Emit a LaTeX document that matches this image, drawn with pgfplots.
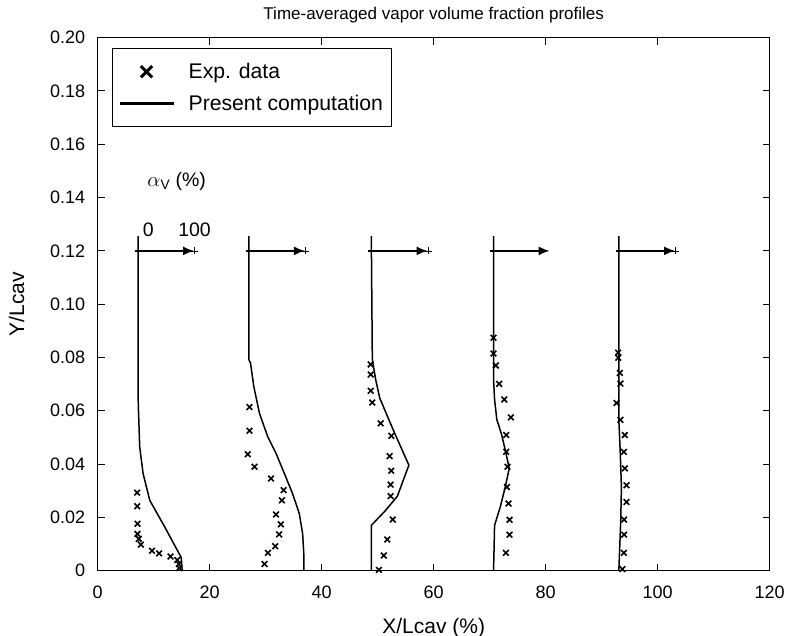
\documentclass[border=0pt]{standalone}
\usepackage{pgfplots}
\pgfplotsset{compat=1.18}
\usepackage{fontspec}
\setmainfont{Liberation Sans}
\usetikzlibrary{arrows.meta}
\newcommand{\fsT}{\fontsize{18}{21}\selectfont}
\newcommand{\fsL}{\fontsize{21.2}{25}\selectfont}
\newcommand{\fsA}{\fontsize{21}{25}\selectfont}
\newcommand{\fsH}{\fontsize{17}{20}\selectfont}
\newcommand{\fsN}{\fontsize{19.5}{23}\selectfont}
\pgfplotsset{
  legcross/.style={legend image code/.code={\draw[##1] plot coordinates {(27pt,0pt)};}},
  legline/.style={legend image code/.code={\draw[##1] (0pt,0pt) -- (54pt,0pt);}},
  expstyle/.style={forget plot, only marks, mark=x, mark size=4pt, line width=1.6pt, black},
  arrstyle/.style={forget plot, black, line width=1.8pt, -{Latex[length=11pt,width=9pt]}},
  endstyle/.style={forget plot, only marks, mark=+, mark size=3.5pt, line width=0.6pt, black},
  linestyle/.style={forget plot, black, line width=1.5pt},
}
\begin{document}
\begin{tikzpicture}
\useasboundingbox (-97.7pt,-65.3pt) rectangle (697.3pt,570.7pt);
\begin{axis}[
  scale only axis, width=672pt, height=533pt,
  at={(0,0)}, anchor=south west,
  xmin=0, xmax=120, ymin=0, ymax=0.2,
  xtick={0,20,40,60,80,100,120},
  xticklabels={0,20,40,60,80,100,120},
  ytick={0,0.02,0.04,0.06,0.08,0.10,0.12,0.14,0.16,0.18,0.20},
  yticklabels={0,0.02,0.04,0.06,0.08,0.10,0.12,0.14,0.16,0.18,0.20},
  scaled y ticks=false,
  tick align=inside, major tick length=7pt,
  axis line style={line width=1.1pt},
  every tick/.style={line width=1pt, black},
  tick label style={font=\fsT},
  xticklabel style={yshift=-12pt},
  yticklabel style={xshift=-9pt},
  xlabel={X/Lcav (\%)}, ylabel={Y/Lcav},
  xlabel style={font=\fsA, at={(axis description cs:0.5,0)}, anchor=center, yshift=-57pt},
  ylabel style={font=\fsA, at={(axis description cs:0,0.5)}, anchor=center, yshift=81pt},
  clip=false,
  legend style={font=\fsL, at={(axis description cs:0.0213,0.980)}, anchor=north west,
    draw=black, line width=0.8pt, row sep=11pt, inner xsep=6pt, inner ysep=12.5pt,
    cells={anchor=west}},
]
\addlegendimage{only marks, mark=x, mark size=8pt, line width=3pt, black, legcross}
\addlegendentry{\hspace{12pt}Exp. data}
\addlegendimage{no marks, line width=2.2pt, black, legline}
\addlegendentry{\hspace{12pt}Present computation\hspace{10pt}}

% computed profiles
\addplot[linestyle] coordinates {
(7.2,0.1255)(7.2,0.0667)(7.26,0.0616)(7.5,0.0465)(8.1,0.0365)(9.3,0.0264)(12.0,0.0163)(14.9,0.005)(15.1,0)};
\addplot[linestyle] coordinates {
(26.98,0.1255)(26.98,0.0792)(27.28,0.078)(27.87,0.0692)(28.88,0.0591)(30.36,0.0503)(31.85,0.044)(33.33,0.0365)(34.8,0.0289)(36.0,0.0214)(36.6,0.0138)(36.8,0.0063)(36.8,0)};
\addplot[linestyle] coordinates {
(48.86,0.1255)(49.04,0.0792)(49.64,0.0717)(50.36,0.0648)(52.9,0.0522)(55.57,0.0396)(53.5,0.0279)(51.4,0.0226)(48.86,0.017)(48.86,0)};
\addplot[linestyle] coordinates {
(70.69,0.1255)(70.69,0.0717)(70.87,0.0642)(71.28,0.0566)(72.06,0.0516)(72.78,0.0453)(73.49,0.0384)(72.78,0.0314)(71.88,0.0239)(70.87,0.017)(70.69,0)};
\addplot[linestyle] coordinates {
(93.06,0.1255)(93.06,0.0566)(93.3,0.045)(93.52,0.0314)(93.4,0.0189)(93.06,0)};

% experimental data
\addplot[expstyle] coordinates {
(7.05,0.0293)(7.05,0.0242)(7.1,0.0176)(7.1,0.0138)(7.35,0.0119)(7.7,0.0098)(9.7,0.0075)(10.96,0.0065)(13.0,0.0053)(14.2,0.004)(14.5,0.0025)(14.55,0.001)};
\addplot[expstyle] coordinates {
(27.1,0.0614)(27.1,0.0525)(26.8,0.0437)(28.0,0.039)(30.96,0.0346)(33.2,0.0302)(32.9,0.0264)(31.85,0.0211)(32.7,0.0174)(32.4,0.0136)(31.7,0.0092)(30.4,0.0067)(29.8,0.0025)};
\addplot[expstyle] coordinates {
(48.75,0.0774)(48.75,0.0736)(48.75,0.0675)(49.04,0.0631)(50.53,0.0553)(52.43,0.0506)(52.13,0.043)(52.43,0.0375)(52.3,0.0323)(52.3,0.028)(52.7,0.0192)(51.7,0.0117)(51.1,0.0057)(50.2,0.0003)};
\addplot[expstyle] coordinates {
(70.69,0.0874)(70.69,0.0815)(71.1,0.077)(71.7,0.0701)(72.6,0.0642)(73.78,0.0575)(72.95,0.0509)(72.95,0.0446)(73.19,0.039)(73.07,0.0314)(73.37,0.0252)(73.55,0.0191)(73.55,0.0135)(72.9,0.0067)};
\addplot[expstyle] coordinates {
(92.94,0.0818)(92.94,0.0799)(93.24,0.0742)(93.35,0.0702)(92.64,0.0629)(93.35,0.0566)(94.13,0.0509)(93.95,0.0446)(94.13,0.0384)(94.43,0.0321)(94.43,0.0258)(94.0,0.0192)(94.0,0.0135)(93.95,0.0067)(93.7,0.0006)};

% scale arrows
\addplot[arrstyle] coordinates {(6.6,0.12)(17.2,0.12)};
\addplot[endstyle] coordinates {(17.3,0.12)};
\addplot[arrstyle] coordinates {(26.4,0.12)(37.0,0.12)};
\addplot[endstyle] coordinates {(37.1,0.12)};
\addplot[arrstyle] coordinates {(48.3,0.12)(58.9,0.12)};
\addplot[endstyle] coordinates {(59.0,0.12)};
\addplot[arrstyle] coordinates {(70.1,0.12)(80.7,0.12)};
\addplot[arrstyle] coordinates {(92.5,0.12)(103.1,0.12)};
\addplot[endstyle] coordinates {(103.2,0.12)};

\node[font=\fsN] at (axis cs:9.05,0.1278) {0};
\node[font=\fsN] at (axis cs:17.3,0.1278) {100};
\node[font=\fsN] at (axis cs:14.1,0.146) {$\alpha$\textsubscript{V} (\%)};
\node[font=\fsH] at (rel axis cs:0.5,1) [yshift=22.5pt] {Time-averaged vapor volume fraction profiles};
\end{axis}
\end{tikzpicture}
\end{document}
